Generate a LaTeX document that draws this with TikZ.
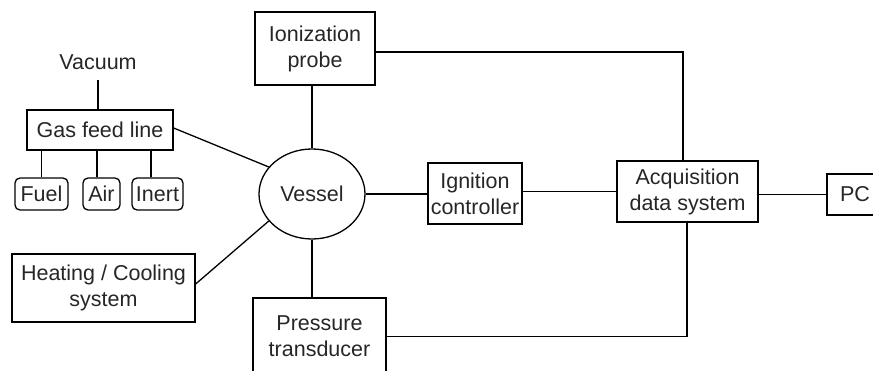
\documentclass[tikz,border=0pt]{standalone}
\usepackage{fontspec}
\setmainfont{Liberation Sans}
\usetikzlibrary{shapes.geometric,calc}
\begin{document}
\begin{tikzpicture}[x=1pt,y=-1pt,
  every node/.style={font=\fontsize{21.5}{26}\selectfont, text=black!85, inner sep=0pt, align=center},
  box/.style={draw, line width=1.3pt, rectangle, minimum width=#1},
  smallbox/.style={draw, line width=1.3pt, rectangle, rounded corners=5pt, minimum height=32pt, minimum width=#1},
  conn/.style={draw, line width=1.3pt}]
\useasboundingbox (0,0) rectangle (873,371);
\clip (0,0) rectangle (873,371);
\node (vac) at (98,62) {Vacuum};
\node[box=146pt, minimum height=40pt] (gas) at (100,130) {Gas feed line};
\node[smallbox=53pt] (fuel) at (41.5,194) {Fuel};
\node[smallbox=37pt] (air) at (101.5,194) {Air};
\node[smallbox=51pt] (inert) at (157.5,194) {Inert};
\node[box=120pt, minimum height=73pt] (probe) at (315,48.5) {Ionization\\probe};
\node[draw, line width=1.3pt, ellipse, minimum width=106pt, minimum height=90pt] (vessel) at (312,194) {Vessel};
\node[box=94pt, minimum height=61pt] (ign) at (475,193.5) {Ignition\\controller};
\node[box=141pt, minimum height=61pt] (acq) at (687.5,191.5) {Acquisition\\data system};
\node[box=56pt, minimum height=41pt] (pc) at (855,194.5) {PC};
\node[box=183pt, minimum height=68pt] (heat) at (103.5,288) {Heating / Cooling\\system};
\node[box=133pt, minimum height=77pt] (press) at (319.5,336.5) {Pressure\\transducer};
\draw[conn] (vac.south |- 0,80) -- (vac.south |- gas.north);
\draw[conn] (gas.south -| fuel.north) -- (fuel.north);
\draw[conn] ([xshift=-4.5pt]air.north) -- ([xshift=-4.5pt]air.north |- gas.south);
\draw[conn] ([xshift=-6.5pt]inert.north) -- ([xshift=-6.5pt]inert.north |- gas.south);
\draw[conn] ([yshift=2pt]gas.east) -- (vessel.148);
\draw[conn] ([yshift=4pt]heat.east) -- (vessel.212);
\draw[conn] (vessel.north |- probe.south) -- (vessel.north);
\draw[conn] (vessel.south) -- (vessel.south |- press.north);
\draw[conn] (vessel.east) -- (vessel.east -| ign.west);
\draw[conn] (ign.east |- acq.west) -- (acq.west);
\draw[conn] (acq.east |- pc.west) -- (pc.west);
\draw[conn] ([yshift=-3.5pt]probe.east) -| ([xshift=-4.5pt]acq.north);
\draw[conn] (press.east) -| ([xshift=-0.5pt]acq.south);
\end{tikzpicture}
\end{document}
